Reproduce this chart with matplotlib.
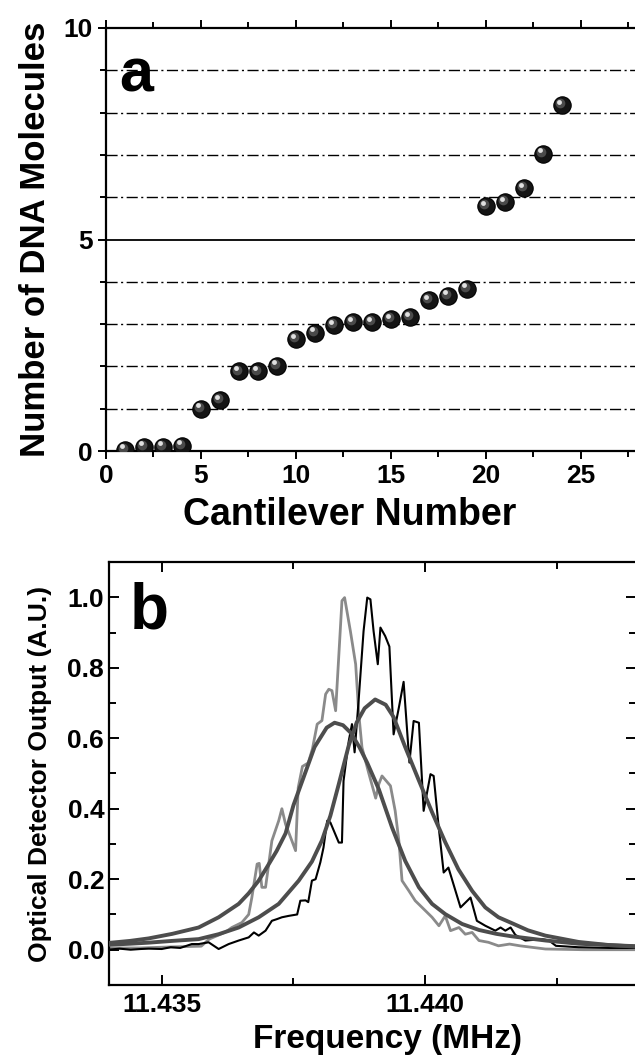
import matplotlib
matplotlib.use("Agg")
import matplotlib.pyplot as plt
from matplotlib.ticker import MultipleLocator, FixedLocator
from matplotlib.transforms import offset_copy

plt.rcParams['font.family'] = ['Liberation Sans', 'DejaVu Sans']
plt.rcParams['font.weight'] = 'bold'

# panel a: DNA molecules per cantilever
cantilever = list(range(1, 25))
molecules = [0.03, 0.1, 0.1, 0.13, 1.0, 1.2, 1.88, 1.88, 2.02, 2.64, 2.8, 2.97,
             3.04, 3.05, 3.12, 3.16, 3.56, 3.67, 3.84, 5.79, 5.89, 6.22, 7.03, 8.17]
grid_levels = [1, 2, 3, 4, 6, 7, 8, 9]

# panel b: raw spectra (gray, black) and fitted curves
gray_f = [11.43398, 11.43459, 11.43521, 11.43575, 11.43590, 11.43621, 11.43633, 11.43652,
          11.43665, 11.43671, 11.43681, 11.43685, 11.43690, 11.43697, 11.43709, 11.43722,
          11.43728, 11.43735, 11.43747, 11.43754, 11.43759, 11.43767, 11.43778, 11.43786,
          11.43795, 11.43804, 11.43811, 11.43817, 11.43823, 11.43830, 11.43842, 11.43847,
          11.43858, 11.43868, 11.43874, 11.43880, 11.43893, 11.43906, 11.43912, 11.43918,
          11.43934, 11.43943, 11.43950, 11.43956, 11.43969, 11.43981, 11.43994, 11.44013,
          11.44026, 11.44038, 11.44048, 11.44064, 11.44076, 11.44089, 11.44102, 11.44120,
          11.44139, 11.44160, 11.44180, 11.44228, 11.44300, 11.44398]
gray_v = [0.005, 0.005, 0.008, 0.01, 0.03, 0.05, 0.063, 0.077,
          0.10, 0.148, 0.243, 0.245, 0.177, 0.177, 0.309, 0.366,
          0.40, 0.356, 0.309, 0.281, 0.46, 0.52, 0.53, 0.57,
          0.64, 0.65, 0.725, 0.739, 0.735, 0.678, 0.99, 0.999,
          0.904, 0.81, 0.668, 0.574, 0.50, 0.43, 0.47, 0.493,
          0.465, 0.394, 0.309, 0.196, 0.167, 0.139, 0.12, 0.092,
          0.068, 0.096, 0.054, 0.063, 0.044, 0.049, 0.026, 0.021,
          0.011, 0.016, 0.011, 0.002, 0.0, 0.0]

black_f = [11.43398, 11.43420, 11.43441, 11.43460, 11.43475, 11.43500, 11.43517, 11.43535,
           11.43557, 11.43570, 11.43589, 11.43608, 11.43627, 11.43646, 11.43665, 11.43675,
           11.43684, 11.43697, 11.43709, 11.43719, 11.43728, 11.43741, 11.43757, 11.43763,
           11.43773, 11.43778, 11.43785, 11.43792, 11.43801, 11.43807, 11.43814, 11.43820,
           11.43836, 11.43842, 11.43845, 11.43855, 11.43861, 11.43866, 11.43874, 11.43883,
           11.43890, 11.43896, 11.43902, 11.43910, 11.43915, 11.43924, 11.43932, 11.43940,
           11.43950, 11.43959, 11.43970, 11.43978, 11.43988, 11.43997, 11.44010, 11.44016,
           11.44025, 11.44035, 11.44044, 11.44067, 11.44086, 11.44098, 11.44114, 11.44133,
           11.44143, 11.44152, 11.44162, 11.44171, 11.44190, 11.44222, 11.44235, 11.44248,
           11.44291, 11.44350, 11.44398]
black_v = [0.0, 0.003, 0.0, 0.002, 0.003, 0.002, 0.007, 0.005,
           0.016, 0.016, 0.021, 0.002, 0.016, 0.026, 0.035, 0.049,
           0.04, 0.054, 0.082, 0.087, 0.092, 0.096, 0.10, 0.139,
           0.14, 0.135, 0.196, 0.20, 0.248, 0.29, 0.366, 0.361,
           0.304, 0.304, 0.479, 0.593, 0.64, 0.56, 0.715, 0.904,
           0.999, 0.994, 0.904, 0.81, 0.914, 0.89, 0.86, 0.611,
           0.687, 0.76, 0.531, 0.649, 0.644, 0.394, 0.498, 0.493,
           0.356, 0.219, 0.233, 0.12, 0.148, 0.082, 0.068, 0.054,
           0.063, 0.054, 0.063, 0.042, 0.026, 0.03, 0.026, 0.011,
           0.007, 0.005, 0.005]

fit1_f = [11.43398, 11.43440, 11.43475, 11.43520, 11.43570, 11.43608, 11.43646, 11.43665,
          11.43684, 11.43700, 11.43718, 11.43735, 11.43750, 11.43767, 11.43790, 11.43813,
          11.43828, 11.43844, 11.43859, 11.43875, 11.43890, 11.43912, 11.43937, 11.43962,
          11.43988, 11.44013, 11.44038, 11.44070, 11.44102, 11.44135, 11.44164, 11.44229,
          11.44291, 11.44350, 11.44398]
fit1_v = [0.019, 0.025, 0.032, 0.045, 0.063, 0.092, 0.13, 0.16,
          0.196, 0.235, 0.28, 0.33, 0.41, 0.48, 0.575, 0.63,
          0.644, 0.637, 0.615, 0.575, 0.53, 0.455, 0.347, 0.252,
          0.177, 0.13, 0.101, 0.073, 0.056, 0.045, 0.038, 0.026,
          0.017, 0.013, 0.01]

fit2_f = [11.43398, 11.43440, 11.43475, 11.43520, 11.43570, 11.43608, 11.43646, 11.43684,
          11.43722, 11.43760, 11.43785, 11.43804, 11.43820, 11.43836, 11.43855, 11.43870,
          11.43885, 11.43905, 11.43925, 11.43940, 11.43962, 11.43988, 11.44013, 11.44038,
          11.44063, 11.44089, 11.44114, 11.44139, 11.44165, 11.44195, 11.44228, 11.44291,
          11.44350, 11.44398]
fit2_v = [0.014, 0.017, 0.02, 0.025, 0.03, 0.044, 0.063, 0.092,
          0.13, 0.196, 0.25, 0.31, 0.38, 0.47, 0.58, 0.645,
          0.685, 0.71, 0.695, 0.66, 0.575, 0.48, 0.39, 0.305,
          0.228, 0.167, 0.12, 0.092, 0.075, 0.055, 0.04, 0.022,
          0.013, 0.009]

fig = plt.figure(figsize=(6.35, 10.6), dpi=100)

# ---- panel a ----
ax1 = fig.add_axes([0.1669, 0.5745, 0.8378, 0.3991])
for lv in grid_levels:
    ax1.axhline(lv, color='black', lw=1.0, ls=(0, (8, 2.5, 1.5, 2.5)), zorder=1)
ax1.axhline(5, color='black', lw=1.3, zorder=1)

# shiny black spheres: dark body plus offset highlights
ax1.plot(cantilever, molecules, 'o', ms=12.5, color='#141414', mec='black', mew=0.8, zorder=3)
hl1 = offset_copy(ax1.transData, fig=fig, x=-1.2, y=1.4, units='points')
ax1.plot(cantilever, molecules, 'o', ms=7, color='#4a4a4a', mew=0, transform=hl1, zorder=4)
hl2 = offset_copy(ax1.transData, fig=fig, x=-2.2, y=2.4, units='points')
ax1.plot(cantilever, molecules, 'o', ms=3.5, color='#e0e0e0', mew=0, transform=hl2, zorder=5)

ax1.set_xlim(0, 28)
ax1.set_ylim(0, 10)
ax1.xaxis.set_major_locator(MultipleLocator(5))
ax1.xaxis.set_minor_locator(MultipleLocator(2.5))
ax1.yaxis.set_major_locator(FixedLocator([0, 5, 10]))
ax1.yaxis.set_minor_locator(MultipleLocator(1))
ax1.tick_params(axis='x', which='both', direction='out', top=True, labelsize=19, width=1.4)
ax1.tick_params(axis='y', which='both', direction='out', right=False, labelsize=19, width=1.4)
ax1.tick_params(which='major', length=6)
ax1.tick_params(which='minor', length=4)
for lbl in ax1.get_xticklabels() + ax1.get_yticklabels():
    lbl.set_fontweight('bold')
for s in ax1.spines.values():
    s.set_linewidth(1.6)
ax1.spines['right'].set_visible(False)
ax1.set_xlabel('Cantilever Number', fontsize=27, fontweight='bold')
ax1.xaxis.set_label_coords(0.459, -0.108)
ax1.set_ylabel('Number of DNA Molecules', fontsize=25, fontweight='bold', labelpad=8)
ax1.text(0.025, 0.955, 'a', transform=ax1.transAxes, fontsize=44, fontweight='bold',
         va='top', ha='left')

# ---- panel b ----
ax2 = fig.add_axes([0.1717, 0.0708, 0.8299, 0.399])
ax2.plot(gray_f, gray_v, color='#8a8a8a', lw=2.0, zorder=2)
ax2.plot(black_f, black_v, color='black', lw=1.5, zorder=3)
ax2.plot(fit1_f, fit1_v, color='#4d4d4d', lw=2.8, solid_joinstyle='round', zorder=4)
ax2.plot(fit2_f, fit2_v, color='#4d4d4d', lw=2.8, solid_joinstyle='round', zorder=4)

ax2.set_xlim(11.434, 11.444)
ax2.set_ylim(-0.1, 1.1)
ax2.xaxis.set_major_locator(FixedLocator([11.435, 11.440]))
ax2.xaxis.set_minor_locator(FixedLocator([11.4375, 11.4425]))
ax2.set_xticklabels(['11.435', '11.440'])
ax2.yaxis.set_major_locator(MultipleLocator(0.2))
ax2.yaxis.set_minor_locator(MultipleLocator(0.1))
ax2.yaxis.set_major_formatter(plt.FuncFormatter(lambda v, p: '%.1f' % v))
ax2.tick_params(which='both', direction='in', top=True, right=True, labelsize=19, width=1.4)
ax2.tick_params(which='major', length=7)
ax2.tick_params(which='minor', length=5)
ax2.tick_params(axis='x', pad=6)
for lbl in ax2.get_xticklabels() + ax2.get_yticklabels():
    lbl.set_fontweight('bold')
for s in ax2.spines.values():
    s.set_linewidth(1.6)
ax2.set_xlabel('Frequency (MHz)', fontsize=24, fontweight='bold')
ax2.xaxis.set_label_coords(0.529, -0.092)
ax2.set_ylabel('Optical Detector Output (A.U.)', fontsize=19, fontweight='bold', labelpad=11)
ax2.text(0.04, 0.955, 'b', transform=ax2.transAxes, fontsize=46, fontweight='bold',
         va='top', ha='left')

fig.savefig('out.png', dpi=100)
